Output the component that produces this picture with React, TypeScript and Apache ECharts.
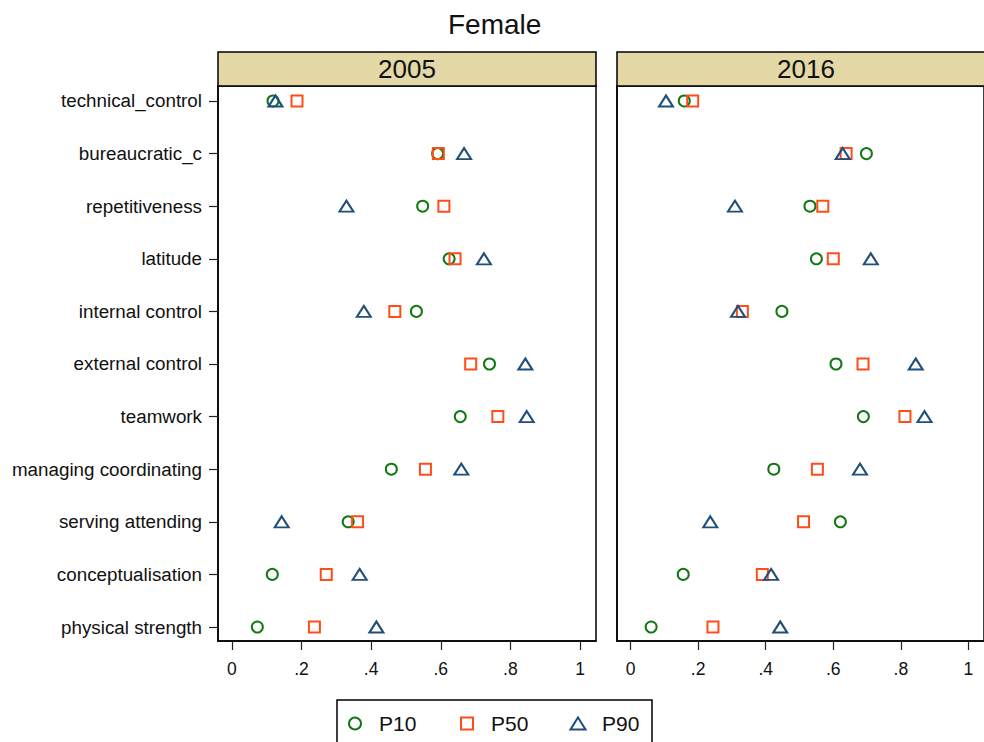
import React, { useEffect, useRef } from "react";
import * as echarts from "echarts";

const categories = [
  "technical_control",
  "bureaucratic_c",
  "repetitiveness",
  "latitude",
  "internal control",
  "external control",
  "teamwork",
  "managing coordinating",
  "serving attending",
  "conceptualisation",
  "physical strength",
];

const panels = ["2005", "2016"];
const seriesNames = ["P10", "P50", "P90"];

const p10_2005 = [0.118, 0.591, 0.548, 0.624, 0.53, 0.74, 0.656, 0.458, 0.334, 0.116, 0.073];
const p50_2005 = [0.187, 0.593, 0.609, 0.641, 0.468, 0.686, 0.764, 0.556, 0.361, 0.271, 0.237];
const p90_2005 = [0.125, 0.667, 0.329, 0.724, 0.379, 0.843, 0.847, 0.659, 0.143, 0.367, 0.415];

const p10_2016 = [0.159, 0.698, 0.531, 0.55, 0.448, 0.608, 0.689, 0.424, 0.621, 0.156, 0.061];
const p50_2016 = [0.184, 0.638, 0.569, 0.6, 0.331, 0.688, 0.812, 0.553, 0.512, 0.39, 0.244];
const p90_2016 = [0.105, 0.628, 0.309, 0.711, 0.318, 0.844, 0.87, 0.679, 0.236, 0.416, 0.443];

const xTicks = [0, 0.2, 0.4, 0.6, 0.8, 1];

const FONT = "'Liberation Sans', Arial, sans-serif";
const COLORS = ["#137813", "#ff4d1a", "#1f4f7a"];
const SYMBOLS = ["circle", "rect", "triangle"];
const SIZES: any[] = [11, 11, [14, 11]];
const LEGEND_ICON: number[][] = [[12, 12], [12, 12], [15, 12]];
const LEGEND_CENTER = [354, 466, 577];

export default function App() {
  const ref = useRef<HTMLDivElement>(null);
  useEffect(() => {
    document.body.style.margin = "0";
    const chart = echarts.init(ref.current!, null, { renderer: "svg" });
    const grids = [
      { left: 218, top: 86, width: 378, height: 555 },
      { left: 617, top: 86, width: 378, height: 555 },
    ].map((g) => ({
      ...g,
      show: true,
      borderColor: "#000",
      borderWidth: 1.5,
      backgroundColor: "#fff",
      containLabel: false,
    }));

    const xAxes = [0, 1].map((i) => ({
      type: "value",
      gridIndex: i,
      min: -0.04,
      max: 1.046,
      splitLine: { show: false },
      axisLine: { show: true, onZero: false, lineStyle: { color: "#000", width: 1.5 } },
      axisTick: { show: true, customValues: xTicks, length: 9, lineStyle: { color: "#222", width: 1.2 } },
      axisLabel: {
        customValues: xTicks,
        margin: 19,
        fontSize: 17.5,
        color: "#111",
        fontFamily: FONT,
        formatter: (v: number) => (v === 0 ? "0" : v === 1 ? "1" : String(v).replace(/^0/, "")),
      },
    }));

    const idx = categories.map((_, i) => i);
    const yAxes = [0, 1].map((i) => ({
      type: "value",
      gridIndex: i,
      inverse: true,
      min: -0.285,
      max: 10.266,
      splitLine: { show: false },
      axisLine: { show: true, onZero: false, lineStyle: { color: "#000", width: 1.5 } },
      axisTick: { show: i === 0, customValues: idx, length: 9, lineStyle: { color: "#222", width: 1.2 } },
      axisLabel: {
        show: i === 0,
        customValues: idx,
        margin: 16,
        fontSize: 18.8,
        color: "#111",
        fontFamily: FONT,
        formatter: (v: number) => categories[Math.round(v)] ?? "",
      },
    }));

    const dataSets = [
      [p10_2005, p50_2005, p90_2005],
      [p10_2016, p50_2016, p90_2016],
    ];
    const series: any[] = [];
    dataSets.forEach((set, gi) => {
      set.forEach((vals, si) => {
        series.push({
          type: "scatter",
          name: seriesNames[si],
          xAxisIndex: gi,
          yAxisIndex: gi,
          symbol: SYMBOLS[si],
          symbolSize: SIZES[si],
          itemStyle: { color: "rgba(255,255,255,0)", borderColor: COLORS[si], borderWidth: 2, opacity: 1 },
          emphasis: { disabled: true },
          data: vals.map((v, i) => [v, i]),
        });
      });
    });

    const headers: any[] = [];
    panels.forEach((p, i) => {
      const g = grids[i];
      headers.push({
        type: "rect",
        shape: { x: g.left, y: 52, width: g.width, height: 34 },
        style: { fill: "#e4d9a6", stroke: "#000", lineWidth: 1.5 },
        z: 10,
      });
      headers.push({
        type: "text",
        x: g.left + g.width / 2,
        y: 69,
        style: {
          text: p,
          fontSize: 26,
          fontFamily: FONT,
          fill: "#111",
          align: "center",
          verticalAlign: "middle",
        },
        z: 11,
      });
    });
    headers.push({
      type: "rect",
      shape: { x: 337, y: 700, width: 315, height: 60 },
      style: { fill: "none", stroke: "#000", lineWidth: 1.5 },
      z: 10,
    });

    const legends = seriesNames.map((n, si) => ({
      data: [{ name: n, icon: SYMBOLS[si] }],
      left: LEGEND_CENTER[si] - LEGEND_ICON[si][0] / 2,
      top: 713,
      padding: 0,
      itemWidth: LEGEND_ICON[si][0],
      itemHeight: LEGEND_ICON[si][1],
      selectedMode: false,
      itemStyle: { color: "rgba(255,255,255,0)", borderColor: COLORS[si], borderWidth: 2 },
      textStyle: {
        fontSize: 21,
        fontFamily: FONT,
        color: "#111",
        padding: [0, 0, 0, 24 - LEGEND_ICON[si][0] / 2 - 5],
      },
    }));

    chart.setOption({
      animation: false,
      backgroundColor: "#fff",
      title: {
        text: "Female",
        left: 443,
        top: 5,
        textStyle: { fontSize: 28, fontWeight: "normal", fontFamily: FONT, color: "#111" },
      },
      grid: grids,
      xAxis: xAxes,
      yAxis: yAxes,
      legend: legends,
      graphic: headers,
      series,
    });
    return () => chart.dispose();
  }, []);
  return <div ref={ref} style={{ width: 984, height: 742 }} />;
}
